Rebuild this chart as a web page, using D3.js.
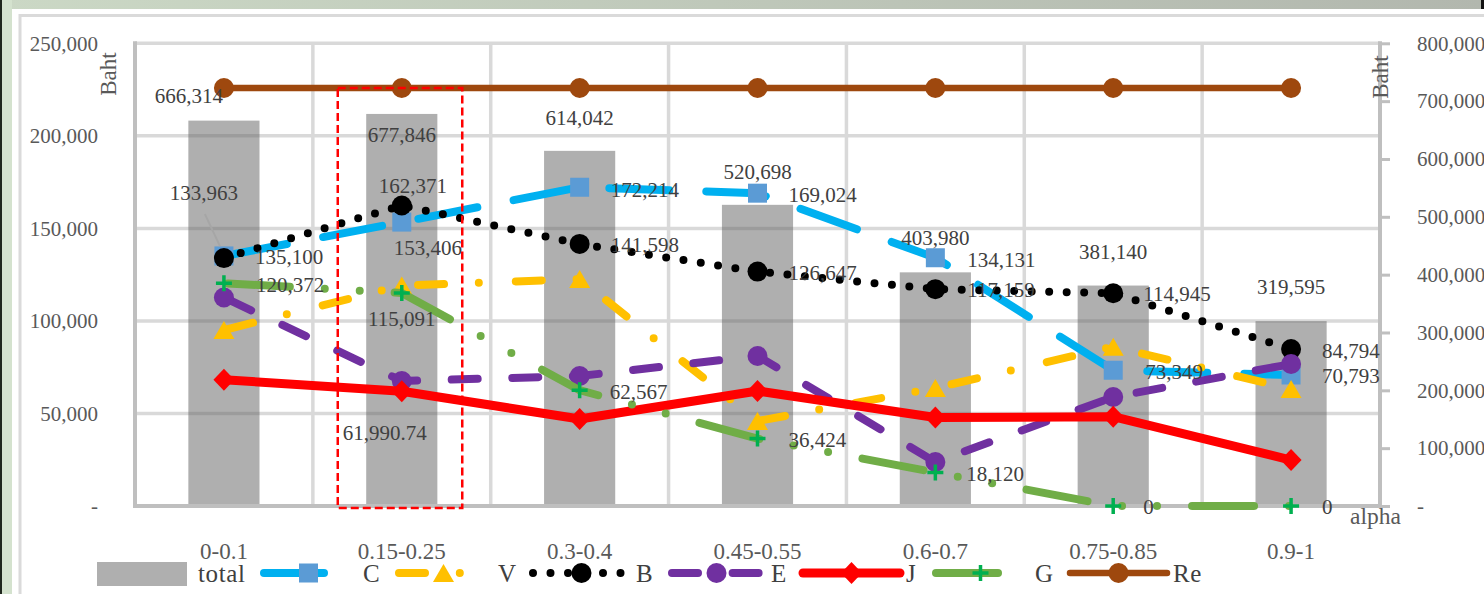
<!DOCTYPE html>
<html>
<head>
<meta charset="utf-8">
<script src="https://cdn.jsdelivr.net/npm/d3@7"></script>
<style>
  html, body { margin: 0; padding: 0; overflow: hidden; background: #fff; }
  svg { display: block; }
</style>
</head>
<body>
<svg id="chart" width="1484" height="594"></svg>
<script>
// ---- data ----
const categories = ["0-0.1", "0.15-0.25", "0.3-0.4", "0.45-0.55", "0.6-0.7", "0.75-0.85", "0.9-1"];
const totalValues = [666314, 677846, 614042, 520698, 403980, 381140, 319595];
const cValues = [135100, 153406, 172214, 169024, 134131, 73349, 70793];
const vValues = [95100, 119100, 122600, 45900, 63750, 86100, 63200];
const bValues = [133963, 162371, 141598, 126647, 117159, 114945, 84794];
const eValues = [112650, 67540, 70240, 81050, 23770, 58900, 76720];
const jValues = [68250, 61990.74, 47000, 62140, 47800, 48250, 24850];
const gValues = [120372, 115091, 62567, 36424, 18120, 0, 0];
const reValues = [225850, 225850, 225850, 225850, 225850, 225850, 225850];
const leftTicks = [0, 50000, 100000, 150000, 200000, 250000];
const rightTicks = [0, 100000, 200000, 300000, 400000, 500000, 600000, 700000, 800000];
const highlightIndex = 1;

// ---- label placement: [anchor, dx, dy] relative to the point, null = no label ----
const totalLabelPos = [["middle", -35, -25], ["middle", 0, 21], ["middle", 0, -33], ["middle", 0, -33],
                       ["middle", 0, -34], ["middle", 0, -34], ["middle", 0, -34]];
const cLabelPos = [["start", 31, 1], ["middle", 26, 26], ["start", 31, 3], ["start", 31, 2],
                   ["start", 32, 2], ["start", 32, 1.5], ["start", 31, 1]];
const bLabelPos = [["middle", -20, -65], ["middle", 11, -20], ["start", 31, 1], ["start", 31, 1.5],
                   ["start", 32, 1], ["start", 30, 0.5], ["start", 31, 1.5]];
const gLabelPos = [["start", 32, 2], ["middle", 0, 26], ["start", 30, 1.5], ["start", 31, 1.5],
                   ["start", 31, 1], ["start", 30, 1], ["start", 31, 1]];
const jLabelPos = [null, ["middle", -17, 42], null, null, null, null, null];
const noLabels = [null, null, null, null, null, null, null];

const FONT = '"Liberation Serif", "Times New Roman", serif';
const W = 1484, H = 594;
const svg = d3.select("#chart");

// ---- page backdrop and chart frame ----
const defs = svg.append("defs");
const grad = defs.append("linearGradient").attr("id", "bg").attr("x1", 0).attr("x2", 1).attr("y1", 0).attr("y2", 0);
grad.append("stop").attr("offset", "0%").attr("stop-color", "#cbd8c5");
grad.append("stop").attr("offset", "100%").attr("stop-color", "#b2b7ae");
svg.append("rect").attr("width", W).attr("height", H).attr("fill", "url(#bg)");
svg.append("rect").attr("x", 0).attr("y", 0).attr("width", 12).attr("height", H).attr("fill", "#d4e2ce");
svg.append("rect").attr("x", 0).attr("y", 0).attr("width", 2).attr("height", H).attr("fill", "#1f271d");
svg.append("rect").attr("x", 1481).attr("y", 0).attr("width", 3).attr("height", 10).attr("fill", "#111");
svg.append("rect").attr("x", 12).attr("y", 9).attr("width", W - 12).attr("height", H - 9).attr("fill", "#fff");
svg.append("rect").attr("x", 20).attr("y", 15.5).attr("width", W + 40).attr("height", H + 40)
  .attr("fill", "none").attr("stroke", "#dadada").attr("stroke-width", 3);

// ---- scales ----
const plotL = 135, plotR = 1380, plotT = 43.3, plotB = 506;
const x = d3.scaleBand().domain(categories).range([plotL, plotR]);
const yL = d3.scaleLinear().domain([0, 250000]).range([plotB, plotT]);
const yR = d3.scaleLinear().domain([0, 800000]).range([plotB, plotT]);
const cx = i => x(categories[i]) + x.bandwidth() / 2;

// ---- gridlines ----
const grid = svg.append("g").attr("stroke", "#d9d9d9").attr("stroke-width", 3.5);
grid.selectAll("line.h").data(leftTicks.slice(1)).join("line").attr("class", "h")
  .attr("x1", plotL).attr("x2", plotR).attr("y1", d => yL(d)).attr("y2", d => yL(d));
grid.selectAll("line.v").data(categories.slice(1)).join("line").attr("class", "v")
  .attr("x1", d => x(d)).attr("x2", d => x(d)).attr("y1", plotT).attr("y2", plotB);

// ---- bars (secondary axis) ----
const barW = x.bandwidth() * 0.4;
svg.append("g").selectAll("rect").data(totalValues).join("rect")
  .attr("x", (d, i) => cx(i) - barW / 2).attr("width", barW)
  .attr("y", d => yR(d)).attr("height", d => yR(0) - yR(d))
  .attr("fill", "#5f5f5f").attr("fill-opacity", 0.5);

// ---- axis lines ----
const axisG = svg.append("g").attr("stroke", "#bfbfbf").attr("stroke-width", 4);
axisG.append("line").attr("x1", plotL).attr("x2", plotL).attr("y1", plotT - 2).attr("y2", plotB + 2);
axisG.append("line").attr("x1", plotL - 2).attr("x2", plotR).attr("y1", plotB).attr("y2", plotB);
axisG.append("line").attr("x1", plotR).attr("x2", plotR).attr("y1", plotT - 2).attr("y2", plotB + 2);

const tickFmt = d => d === 0 ? "-" : d3.format(",")(d);
function styleAxisText(g, size) {
  g.attr("font-family", null).attr("font-size", null);
  g.selectAll("text").style("font-family", FONT).style("font-size", size + "px").style("fill", "#595959");
}
const gLeft = svg.append("g").attr("transform", `translate(${plotL},0)`)
  .call(d3.axisLeft(yL).tickValues(leftTicks).tickFormat(tickFmt).tickSize(0).tickPadding(37));
gLeft.select(".domain").remove();
styleAxisText(gLeft, 21);

const gRight = svg.append("g").attr("transform", `translate(${plotR},0)`)
  .call(d3.axisRight(yR).tickValues(rightTicks).tickFormat(tickFmt).tickSizeInner(10).tickSizeOuter(0).tickPadding(27));
gRight.select(".domain").remove();
gRight.selectAll(".tick line").attr("stroke", "#bfbfbf").attr("stroke-width", 3);
styleAxisText(gRight, 21);

const gBottom = svg.append("g").attr("transform", `translate(0,${plotB})`)
  .call(d3.axisBottom(x).tickSize(0).tickPadding(37));
gBottom.select(".domain").remove();
styleAxisText(gBottom, 23);

// axis titles
function title(txt, tx, ty, rot, size) {
  svg.append("text").attr("transform", `translate(${tx},${ty}) rotate(${rot})`)
    .attr("text-anchor", rot ? "middle" : "start")
    .style("font-family", FONT).style("font-size", size + "px").style("fill", "#595959").text(txt);
}
title("Baht", 116, 74, -90, 23);
title("Baht", 1388, 77, -90, 23);
title("alpha", 1350, 524, 0, 23.5);

// ---- markers ----
function drawMarker(g, type, px, py, color) {
  if (type === "square") {
    g.append("rect").attr("x", px - 9.5).attr("y", py - 9.5).attr("width", 19).attr("height", 19).attr("fill", color);
  } else if (type === "triangle") {
    g.append("path").attr("d", `M${px},${py - 9}L${px + 10.5},${py + 9}L${px - 10.5},${py + 9}Z`).attr("fill", color);
  } else if (type === "circle") {
    g.append("circle").attr("cx", px).attr("cy", py).attr("r", 10).attr("fill", color);
  } else if (type === "diamond") {
    g.append("path").attr("d", `M${px},${py - 11}L${px + 10.5},${py}L${px},${py + 11}L${px - 10.5},${py}Z`).attr("fill", color);
  } else if (type === "plus") {
    g.append("path").attr("d", `M${px - 8},${py}H${px + 8}M${px},${py - 8}V${py + 8}`)
      .attr("stroke", color).attr("stroke-width", 3.5).attr("fill", "none");
  }
}

// ---- line series ----
const series = [
  { name: "C", values: cValues, color: "#00B0F0", width: 8, dash: "60 37", offset: -4, marker: "square", mColor: "#5B9BD5", labels: cLabelPos },
  { name: "V", values: vValues, color: "#FFC000", width: 8, dash: "26 34.8 0 37", offset: -4, marker: "triangle", mColor: "#FFC000", labels: noLabels },
  { name: "B", values: bValues, color: "#000000", width: 8, dash: "0 17.5", offset: 0, marker: "circle", mColor: "#000000", labels: bLabelPos },
  { name: "E", values: eValues, color: "#7030A0", width: 8, dash: "26 34.6", offset: -4, marker: "circle", mColor: "#7030A0", labels: noLabels },
  { name: "J", values: jValues, color: "#FF0000", width: 9, dash: null, offset: 0, marker: "diamond", mColor: "#FF0000", labels: jLabelPos },
  { name: "G", values: gValues, color: "#70AD47", width: 8, dash: "62 35 0 35 0 35", offset: -4, marker: "plus", mColor: "#00B050", labels: gLabelPos },
  { name: "Re", values: reValues, color: "#9E480E", width: 6.5, dash: null, offset: 0, marker: "circle", mColor: "#9E480E", labels: noLabels }
];

const lineGen = d3.line().x((d, i) => cx(i)).y(d => yL(d));
series.forEach(s => {
  const g = svg.append("g").attr("class", "series-" + s.name);
  g.append("path").attr("d", lineGen(s.values)).attr("fill", "none")
    .attr("stroke", s.color).attr("stroke-width", s.width)
    .attr("stroke-linecap", "round").attr("stroke-linejoin", "round")
    .attr("stroke-dasharray", s.dash).attr("stroke-dashoffset", s.offset);
  s.values.forEach((v, i) => drawMarker(g, s.marker, cx(i), yL(v), s.mColor));
});

// ---- data labels ----
const labelG = svg.append("g");
const numFmt = d3.format(",");
function addLabels(values, pos, yScale) {
  values.forEach((v, i) => {
    const p = pos[i];
    if (!p) return;
    labelG.append("text")
      .attr("x", cx(i) + p[1]).attr("y", yScale(v) + p[2]).attr("dy", "0.34em")
      .attr("text-anchor", p[0])
      .style("font-family", FONT).style("font-size", "21px").style("fill", "#404040")
      .text(numFmt(v));
  });
}
// leader line for the first B label
labelG.append("line")
  .attr("x1", cx(0) - 19).attr("y1", yL(bValues[0]) - 44)
  .attr("x2", cx(0) - 4).attr("y2", yL(bValues[0]) - 12)
  .attr("stroke", "#a6a6a6").attr("stroke-width", 2);
addLabels(totalValues, totalLabelPos, yR);
series.forEach(s => addLabels(s.values, s.labels, yL));

// ---- highlight box around one category ----
const bw = x.bandwidth();
const hx = x(categories[highlightIndex]);
svg.append("rect")
  .attr("x", hx + bw * 0.14).attr("width", bw * 0.70)
  .attr("y", yL(reValues[highlightIndex])).attr("height", plotB + 2 - yL(reValues[highlightIndex]))
  .attr("fill", "none").attr("stroke", "#FF0000").attr("stroke-width", 2.5).attr("stroke-dasharray", "8 4");

// ---- legend ----
const legendY = 573;
const leg = svg.append("g");
leg.append("rect").attr("x", 97).attr("y", 562).attr("width", 90).attr("height", 24)
  .attr("fill", "#5f5f5f").attr("fill-opacity", 0.5);
const legText = (txt, tx) => leg.append("text").attr("x", tx).attr("y", legendY).attr("dy", "0.34em")
  .style("font-family", FONT).style("font-size", "25px").style("letter-spacing", "0.6px").style("fill", "#404040").text(txt);
legText("total", 198);
const legendX = [260, 395, 533, 668, 803, 932, 1070];
series.forEach((s, k) => {
  const x0 = legendX[k], len = 97;
  leg.append("path").attr("d", `M${x0},${legendY}H${x0 + len}`).attr("fill", "none")
    .attr("stroke", s.color).attr("stroke-width", s.width)
    .attr("stroke-linecap", "round").attr("stroke-dasharray", s.dash).attr("stroke-dashoffset", s.offset);
  drawMarker(leg, s.marker, x0 + len / 2, legendY, s.mColor);
  legText(s.name, x0 + len + 6);
});
</script>
</body>
</html>
